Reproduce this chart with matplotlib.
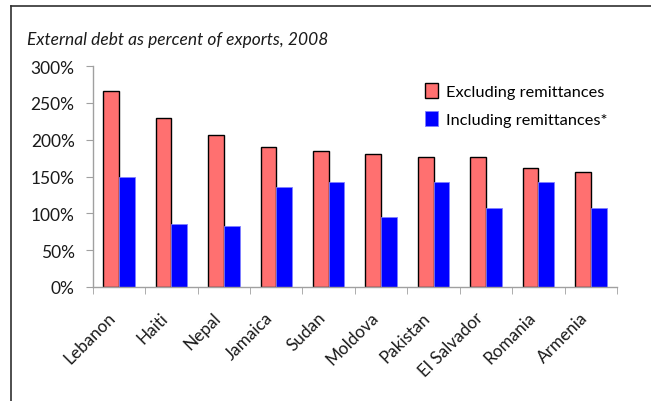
import matplotlib
matplotlib.use("Agg")
import matplotlib.pyplot as plt
import numpy as np
from matplotlib.lines import Line2D
from matplotlib.ticker import FuncFormatter, FixedLocator

countries = ["Lebanon", "Haiti", "Nepal", "Jamaica", "Sudan", "Moldova",
             "Pakistan", "El Salvador", "Romania", "Armenia"]
excluding = [266, 229, 207, 190, 184, 181, 177, 176, 162, 156]
including = [150, 86, 83, 136, 143, 95, 143, 107, 143, 107]
yticks = [0, 50, 100, 150, 200, 250, 300]

plt.rcParams['font.family'] = ['Lato', 'DejaVu Sans']

fig = plt.figure(figsize=(6.51, 4.02), dpi=100)
ax = fig.add_axes([0.1424, 0.2836, 0.948 - 0.1424, 0.8333 - 0.2836])

x = np.arange(len(countries))
w = 0.3
ax.bar(x - w / 2, excluding, width=w, color="#ff7070", edgecolor="black",
       linewidth=1.0, label="Excluding remittances")
ax.bar(x + w / 2, including, width=w, color="#0000ff", edgecolor="#8080ff",
       linewidth=0.6, label="Including remittances*")

ax.set_xlim(-0.5, len(countries) - 0.5)
ax.set_ylim(0, 300)
ax.set_yticks(yticks)
ax.yaxis.set_major_formatter(FuncFormatter(lambda v, p: f"{int(v)}%"))
ax.set_xticks(x)
ax.set_xticklabels(countries, rotation=45, ha="right", va="bottom",
                   rotation_mode="anchor", fontsize=12.3, color="#1a1a1a")
ax.xaxis.set_minor_locator(FixedLocator(np.arange(-0.5, len(countries), 1.0)))
ax.tick_params(axis="x", which="major", length=0, pad=24)
ax.tick_params(axis="x", which="minor", length=5, color="#a0a0a0", direction="out")
ax.tick_params(axis="y", length=5, color="#a0a0a0", labelsize=12.5, pad=8,
               labelcolor="#1a1a1a")

for s in ["top", "right"]:
    ax.spines[s].set_visible(False)
for s in ["left", "bottom"]:
    ax.spines[s].set_color("#a0a0a0")
    ax.spines[s].set_linewidth(1.0)

leg = ax.legend(loc="upper right", bbox_to_anchor=(1.01, 0.99), frameon=False,
                fontsize=11.8, handlelength=0.8, handleheight=1.0,
                handletextpad=0.5, labelspacing=0.75)

fig.text(27 / 651, 1 - 40 / 402, "External debt as percent of exports, 2008",
         fontsize=12.5, style="italic", ha="left", va="center", color="#1a1a1a")

fig.add_artist(Line2D([10.5 / 651, 1.0], [1 - 7 / 402, 1 - 7 / 402],
                      transform=fig.transFigure, color="#303030", linewidth=1.2))
fig.add_artist(Line2D([10.5 / 651, 10.5 / 651], [0, 1 - 7 / 402],
                      transform=fig.transFigure, color="#303030", linewidth=1.2))

fig.savefig("out.png", dpi=100)
